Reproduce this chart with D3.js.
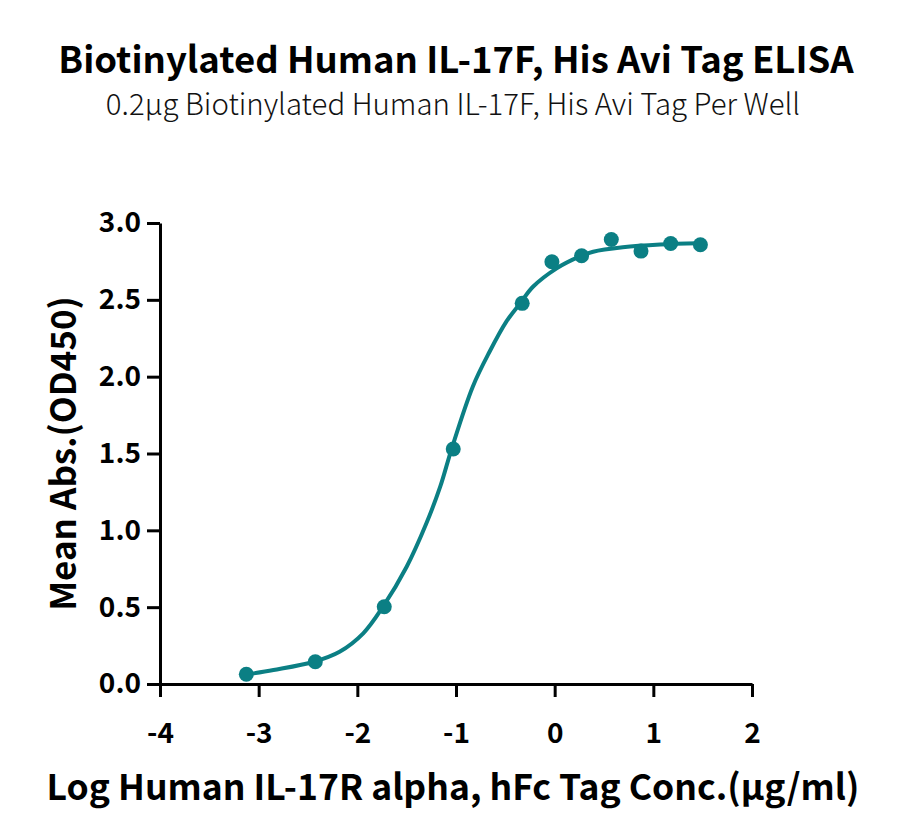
<!DOCTYPE html>
<html>
<head>
<meta charset="utf-8">
<script src="https://cdn.jsdelivr.net/npm/d3@7"></script>
<style>
  html, body { margin: 0; padding: 0; background: #fff; }
  svg { display: block; font-family: "Noto Sans CJK SC", "Noto Sans", sans-serif; }
</style>
</head>
<body>
<svg id="chart" width="900" height="840"></svg>
<script>
const titleText = "Biotinylated Human IL-17F, His Avi Tag ELISA";
const subtitleText = "0.2\u00b5g Biotinylated Human IL-17F, His Avi Tag Per Well";
const xLabelText = "Log Human IL-17R alpha, hFc Tag Conc.(\u00b5g/ml)";
const yLabelText = "Mean Abs.(OD450)";

// measured points (log concentration, OD450)
const logConc = [-3.125, -2.426, -1.727, -1.028, -0.329, -0.028, 0.273, 0.574, 0.875, 1.176, 1.477];
const od450   = [0.063, 0.145, 0.503, 1.529, 2.477, 2.748, 2.787, 2.893, 2.817, 2.867, 2.858];

// fitted curve
const curveX = [-3.14, -2.85, -2.44, -2.18, -1.94, -1.74, -1.50, -1.30, -1.16, -1.045, -0.83, -0.66, -0.49, -0.35, -0.22, 0.02, 0.25, 0.39, 0.69, 1.07, 1.46];
const curveY = [0.06, 0.091, 0.145, 0.21, 0.33, 0.503, 0.763, 1.046, 1.284, 1.529, 1.935, 2.162, 2.358, 2.477, 2.585, 2.705, 2.781, 2.813, 2.842, 2.86, 2.868];

const xTicks = [-4, -3, -2, -1, 0, 1, 2];
const yTicks = [0.0, 0.5, 1.0, 1.5, 2.0, 2.5, 3.0];

const color = "#0b7f84";
const FONT = '"Noto Sans CJK SC", "Noto Sans", sans-serif';
const svg = d3.select("#chart");

const x = d3.scaleLinear().domain([-4, 2]).range([160, 752]);
const y = d3.scaleLinear().domain([0, 3]).range([684, 223]);

// titles
svg.append("text").attr("x", 456).attr("y", 73).attr("text-anchor", "middle")
  .attr("font-size", 36.5).attr("font-weight", 700).attr("fill", "#000").text(titleText);
svg.append("text").attr("x", 453).attr("y", 115).attr("text-anchor", "middle")
  .attr("font-size", 29.4).attr("font-weight", 300).attr("fill", "#111").text(subtitleText);

// axes
const xAxis = svg.append("g").attr("transform", `translate(0,${y(0)})`)
  .call(d3.axisBottom(x).tickValues(xTicks).tickFormat(d => String(d)).tickSize(13).tickSizeOuter(0));
const yAxis = svg.append("g").attr("transform", `translate(${x(-4)},0)`)
  .call(d3.axisLeft(y).tickValues(yTicks).tickFormat(d3.format(".1f")).tickSize(13).tickSizeOuter(0));

[xAxis, yAxis].forEach(g => {
  g.select(".domain").attr("stroke", "#000").attr("stroke-width", 3);
  g.selectAll(".tick line").attr("stroke", "#000").attr("stroke-width", 3);
  g.selectAll(".tick text").attr("fill", "#000").attr("font-size", 28).attr("font-weight", 700)
    .attr("font-family", FONT);
});
xAxis.selectAll(".tick text").attr("dy", "0.71em").attr("y", 39);
yAxis.selectAll(".tick text").attr("x", -19);

// axis labels
svg.append("text").attr("x", 453).attr("y", 800).attr("text-anchor", "middle")
  .attr("font-size", 35.5).attr("font-weight", 700).attr("fill", "#000").text(xLabelText);
svg.append("text").attr("transform", `translate(76,${(y(0)+y(3))/2}) rotate(-90)`)
  .attr("text-anchor", "middle").attr("font-size", 35).attr("font-weight", 700)
  .attr("fill", "#000").text(yLabelText);

// curve
const curveData = curveX.map((v, i) => [v, curveY[i]]);
svg.append("path").datum(curveData)
  .attr("fill", "none").attr("stroke", color).attr("stroke-width", 4)
  .attr("d", d3.line().x(d => x(d[0])).y(d => y(d[1])).curve(d3.curveCatmullRom.alpha(0.5)));

// points
const pts = logConc.map((v, i) => [v, od450[i]]);
svg.append("g").selectAll("circle").data(pts).join("circle")
  .attr("cx", d => x(d[0])).attr("cy", d => y(d[1])).attr("r", 7.5).attr("fill", color);
</script>
</body>
</html>
